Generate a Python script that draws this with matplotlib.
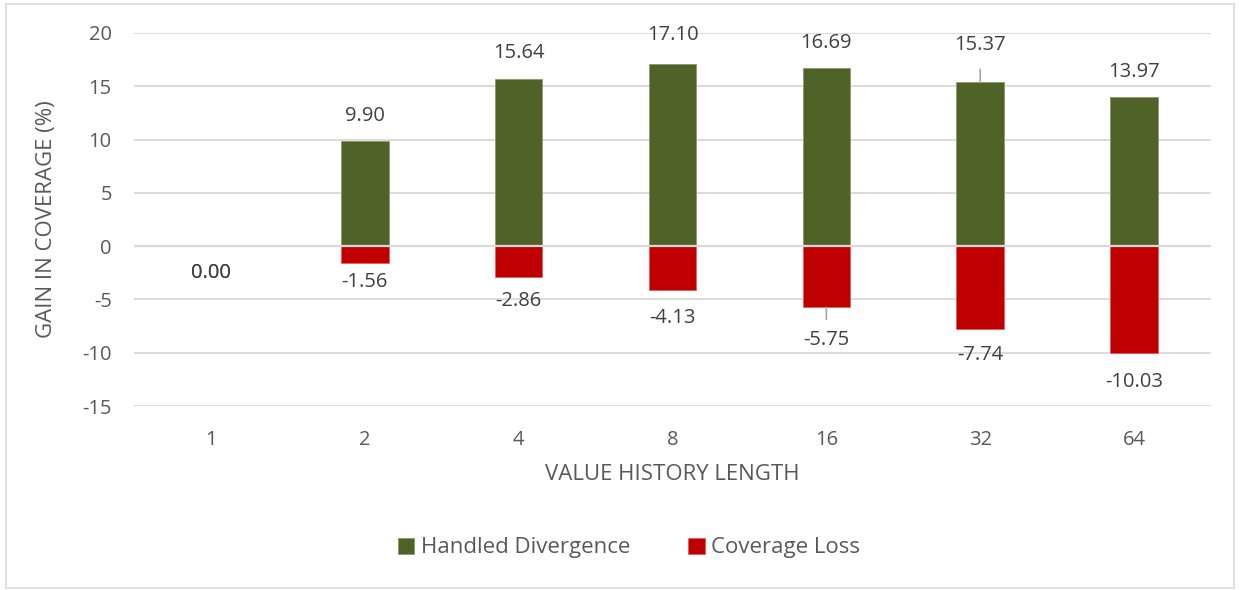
import matplotlib.pyplot as plt
import numpy as np
from matplotlib.patches import Rectangle

plt.rcParams['font.family'] = ['Open Sans', 'DejaVu Sans']
plt.rcParams['axes.unicode_minus'] = False

categories = ['1', '2', '4', '8', '16', '32', '64']
handled = [0.00, 9.90, 15.64, 17.10, 16.69, 15.37, 13.97]
loss = [0.00, -1.56, -2.86, -4.13, -5.75, -7.74, -10.03]

# label offsets in pixels from bar end (Excel placed them by hand-ish)
handled_off = [-27, 25, 26, 29, 25, 37, 25]
loss_off = [-27, -19, -24, -28, -33, -26, -29]

green = '#4F6228'
red = '#C00000'
txt = '#595959'
grid = '#D9D9D9'

fig = plt.figure(figsize=(12.4, 5.9), dpi=100)
ax = fig.add_axes([134 / 1240, 1 - 406 / 590, 1077 / 1240, 373 / 590])

x = np.arange(len(categories))
w = 0.31
ax.bar(x, handled, w, color=green, edgecolor='#8a9a6a', linewidth=0.6, zorder=2,
       label='Handled Divergence')
ax.bar(x, loss, w, color=red, edgecolor='#e06060', linewidth=0.6, zorder=2,
       label='Coverage Loss')
ax.axhline(0, color=grid, lw=1.6, zorder=3)

for i in range(len(categories)):
    ax.annotate(f'{handled[i]:.2f}', (x[i], handled[i]), xytext=(0, handled_off[i]),
                textcoords='offset pixels', ha='center', va='center',
                fontsize=14.5, color='#404040')
    ax.annotate(f'{loss[i]:.2f}', (x[i], loss[i]), xytext=(0, loss_off[i]),
                textcoords='offset pixels', ha='center', va='center',
                fontsize=14.5, color='#404040')

# leader lines
ax.annotate('', (x[5], handled[5]), xytext=(0, 13), textcoords='offset pixels',
            arrowprops=dict(arrowstyle='-', color='#A6A6A6', lw=1.2, shrinkA=0, shrinkB=0))
ax.annotate('', (x[4], loss[4]), xytext=(0, -12), textcoords='offset pixels',
            arrowprops=dict(arrowstyle='-', color='#A6A6A6', lw=1.2, shrinkA=0, shrinkB=0))

ax.set_xlim(-0.5, len(categories) - 0.5)
ax.set_ylim(-15, 20)
ax.set_yticks(np.arange(-15, 21, 5))
ax.set_xticks(x)
ax.set_xticklabels(categories)
ax.yaxis.grid(True, color=grid, lw=1.3, zorder=0)
ax.set_axisbelow(True)
for s in ax.spines.values():
    s.set_visible(False)
ax.tick_params(length=0, labelsize=14.5, colors=txt)
ax.tick_params(axis='x', pad=17)
ax.tick_params(axis='y', pad=16)

ax.set_xlabel('VALUE HISTORY LENGTH', fontsize=16, color=txt, labelpad=10)
ax.set_ylabel('GAIN IN COVERAGE (%)', fontsize=16, color=txt, labelpad=18)

ax.legend(loc='center', bbox_to_anchor=(629 / 1240, 1 - 548 / 590),
          bbox_transform=fig.transFigure, ncol=2, frameon=False, fontsize=16,
          labelcolor=txt, handlelength=0.75, handleheight=0.75, handletextpad=0.3,
          columnspacing=2.6)

fig.patches.append(Rectangle((6 / 1240, 2 / 590), 1228 / 1240, 584 / 590,
                             transform=fig.transFigure, fill=False,
                             edgecolor=grid, lw=1.2))

fig.savefig('out.png', dpi=100)
